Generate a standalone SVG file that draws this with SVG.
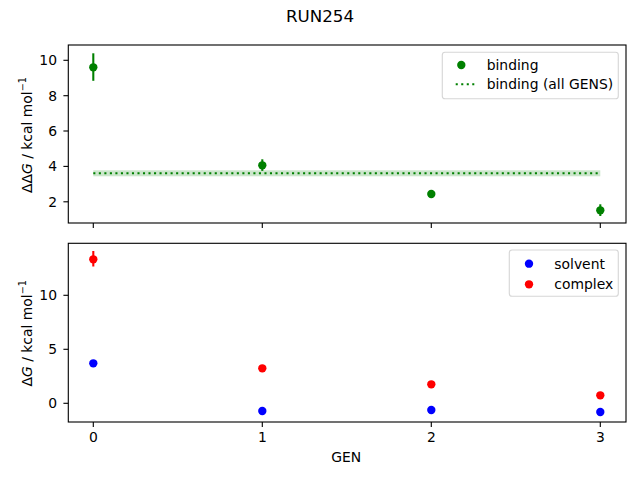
<svg xmlns="http://www.w3.org/2000/svg" width="640" height="480" viewBox="0 0 640 480">
<style>
text{font-family:"DejaVu Sans",sans-serif;font-size:13.9px;fill:#000}
.spine{fill:none;stroke:#000;stroke-width:1.11}
.tick{stroke:#000;stroke-width:1.11}
.ylab{text-anchor:end}
.xlab{text-anchor:middle}
.eg{stroke:#008000;stroke-width:2.08}
.er{stroke:#ff0000;stroke-width:2.08}
.legbox{fill:#fff;fill-opacity:0.8;stroke:#ccc;stroke-opacity:0.8;stroke-width:1.11}
</style>
<rect width="640" height="480" fill="#fff"/>
<text x="320" y="21.5" style="font-size:16.7px" text-anchor="middle">RUN254</text>

<g id="top-axes">
<rect x="93.3" y="170.3" width="507" height="6" fill="#cce6cc"/>
<line x1="93.3" y1="173.3" x2="600.3" y2="173.3" stroke="#008000" stroke-width="2.08" stroke-dasharray="2.08 3.44"/>
<g id="binding-points" fill="#008000">
<line class="eg" x1="93.3" y1="53.3" x2="93.3" y2="80.8"/>
<circle cx="93.3" cy="67.3" r="4.17"/>
<line class="eg" x1="262.3" y1="159.3" x2="262.3" y2="170.9"/>
<circle cx="262.3" cy="165.3" r="4.17"/>
<line class="eg" x1="431.3" y1="190.5" x2="431.3" y2="197.5"/>
<circle cx="431.3" cy="194" r="4.17"/>
<line class="eg" x1="600.3" y1="204.3" x2="600.3" y2="216"/>
<circle cx="600.3" cy="210.3" r="4.17"/>
</g>
<rect class="spine" x="68.3" y="45" width="557.7" height="178"/>
<g id="top-yticks">
<line class="tick" x1="63.4" y1="60.3" x2="68.3" y2="60.3"/><text class="ylab" x="57" y="65.3">10</text>
<line class="tick" x1="63.4" y1="95.7" x2="68.3" y2="95.7"/><text class="ylab" x="57" y="100.7">8</text>
<line class="tick" x1="63.4" y1="131" x2="68.3" y2="131"/><text class="ylab" x="57" y="136">6</text>
<line class="tick" x1="63.4" y1="166.4" x2="68.3" y2="166.4"/><text class="ylab" x="57" y="171.4">4</text>
<line class="tick" x1="63.4" y1="201.8" x2="68.3" y2="201.8"/><text class="ylab" x="57" y="206.8">2</text>
</g>
<g id="top-xticks">
<line class="tick" x1="93.3" y1="223" x2="93.3" y2="227.9"/>
<line class="tick" x1="262.3" y1="223" x2="262.3" y2="227.9"/>
<line class="tick" x1="431.3" y1="223" x2="431.3" y2="227.9"/>
<line class="tick" x1="600.3" y1="223" x2="600.3" y2="227.9"/>
</g>
<text transform="translate(31.5,135) rotate(-90)" text-anchor="middle">ΔΔ<tspan font-style="italic">G</tspan> / kcal mol<tspan dy="-5.5" style="font-size:9.7px">−1</tspan></text>
<g id="top-legend">
<rect class="legbox" x="442.3" y="52.3" width="176" height="46.4" rx="2.8"/>
<circle cx="461.3" cy="65" r="4.17" fill="#008000"/>
<text x="486.7" y="70">binding</text>
<line x1="455.7" y1="84.3" x2="474.3" y2="84.3" stroke="#008000" stroke-width="2.08" stroke-dasharray="2.08 3.44"/>
<text x="486.7" y="89.3">binding (all GENS)</text>
</g>
</g>

<g id="bottom-axes">
<g id="complex-points" fill="#ff0000">
<line class="er" x1="93.3" y1="251" x2="93.3" y2="266.5"/>
<circle cx="93.3" cy="259.3" r="4.17"/>
<circle cx="262.3" cy="368.3" r="4.17"/>
<circle cx="431.3" cy="384.3" r="4.17"/>
<circle cx="600.3" cy="395.3" r="4.17"/>
</g>
<g id="solvent-points" fill="#0000ff">
<circle cx="93.3" cy="363.3" r="4.17"/>
<circle cx="262.3" cy="411" r="4.17"/>
<circle cx="431.3" cy="410" r="4.17"/>
<circle cx="600.3" cy="412" r="4.17"/>
</g>
<rect class="spine" x="68.3" y="243.3" width="557.7" height="178.7"/>
<g id="bottom-yticks">
<line class="tick" x1="63.4" y1="295.3" x2="68.3" y2="295.3"/><text class="ylab" x="57" y="300.3">10</text>
<line class="tick" x1="63.4" y1="349.3" x2="68.3" y2="349.3"/><text class="ylab" x="57" y="354.3">5</text>
<line class="tick" x1="63.4" y1="403.3" x2="68.3" y2="403.3"/><text class="ylab" x="57" y="408.3">0</text>
</g>
<g id="bottom-xticks">
<line class="tick" x1="93.3" y1="422" x2="93.3" y2="426.9"/><text class="xlab" x="93.3" y="442.3">0</text>
<line class="tick" x1="262.3" y1="422" x2="262.3" y2="426.9"/><text class="xlab" x="262.3" y="442.3">1</text>
<line class="tick" x1="431.3" y1="422" x2="431.3" y2="426.9"/><text class="xlab" x="431.3" y="442.3">2</text>
<line class="tick" x1="600.3" y1="422" x2="600.3" y2="426.9"/><text class="xlab" x="600.3" y="442.3">3</text>
</g>
<text x="346.3" y="462.3" text-anchor="middle">GEN</text>
<text transform="translate(31.5,333.3) rotate(-90)" text-anchor="middle">Δ<tspan font-style="italic">G</tspan> / kcal mol<tspan dy="-5.5" style="font-size:9.7px">−1</tspan></text>
<g id="bottom-legend">
<rect class="legbox" x="509.3" y="250" width="109" height="46.3" rx="2.8"/>
<circle cx="529" cy="263.7" r="4.17" fill="#0000ff"/>
<text x="554.3" y="268.7">solvent</text>
<circle cx="529" cy="284.3" r="4.17" fill="#ff0000"/>
<text x="554.3" y="289.3">complex</text>
</g>
</g>
</svg>
